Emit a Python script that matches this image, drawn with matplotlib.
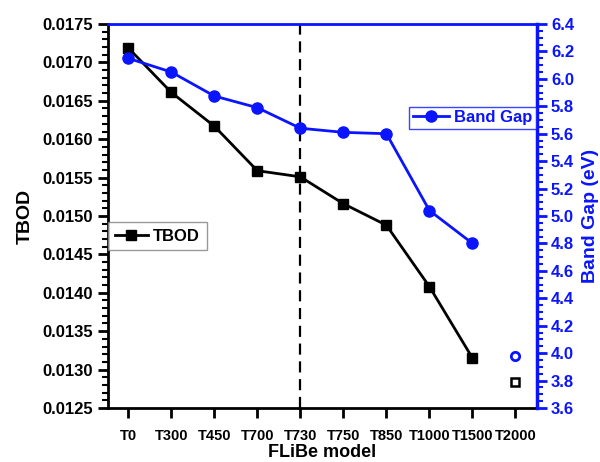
import matplotlib
matplotlib.use("Agg")
import matplotlib.pyplot as plt
from matplotlib.ticker import MultipleLocator, AutoMinorLocator

plt.rcParams['font.family'] = ['Liberation Sans', 'DejaVu Sans']
plt.rcParams['font.weight'] = 'bold'

models = ['T0', 'T300', 'T450', 'T700', 'T730', 'T750', 'T850', 'T1000', 'T1500', 'T2000']
tbod = [0.01719, 0.01661, 0.01617, 0.01559, 0.01551, 0.01516, 0.01488, 0.01408, 0.01315]
band_gap = [6.15, 6.05, 5.875, 5.79, 5.64, 5.61, 5.60, 5.04, 4.80]
tbod_t2000 = 0.01284
gap_t2000 = 3.98

blue = '#0a14ff'
x = list(range(len(models)))

fig = plt.figure(figsize=(6, 4.62), dpi=100)
ax = fig.add_axes([0.18, 0.117, 0.715, 0.831])
ax2 = ax.twinx()

l1, = ax.plot(x[:len(tbod)], tbod, color='black', lw=2, marker='s', ms=7, label='TBOD')
ax.plot(x[-1], tbod_t2000, ls='none', marker='s', ms=6, mfc='white', mec='black', mew=1.8)
ax.axvline(4, color='black', lw=1.6, ls=(0, (5, 3)))

l2, = ax2.plot(x[:len(band_gap)], band_gap, color=blue, lw=2, marker='o', ms=8, label='Band Gap')
ax2.plot(x[-1], gap_t2000, ls='none', marker='o', ms=6, mfc='white', mec=blue, mew=2)

ax.set_xlim(-0.47, 9.5)
ax.set_ylim(0.0125, 0.0175)
ax2.set_ylim(3.6, 6.4)
ax.set_xticks(x)
ax.set_xticklabels(models, fontsize=10.5, fontweight='bold')
ax.yaxis.set_major_locator(MultipleLocator(0.0005))
ax.yaxis.set_minor_locator(AutoMinorLocator(5))
ax.yaxis.set_major_formatter(plt.FormatStrFormatter('%.4f'))
ax2.yaxis.set_major_locator(MultipleLocator(0.2))
ax2.yaxis.set_minor_locator(AutoMinorLocator(4))

ax.tick_params(axis='y', which='major', length=7, width=2, labelsize=12, direction='out', pad=4)
ax.tick_params(axis='y', which='minor', length=4, width=1.5, direction='out')
ax.tick_params(axis='x', which='major', length=7, width=2, direction='out', pad=8)
ax2.tick_params(axis='y', which='major', length=7, width=2, labelsize=12, colors=blue, direction='out', pad=3)
ax2.tick_params(axis='y', which='minor', length=4, width=1.5, colors=blue, direction='out')

for s in ['left', 'bottom']:
    ax.spines[s].set_linewidth(2)
ax2.spines['left'].set_visible(False)
ax2.spines['bottom'].set_visible(False)
ax.spines['top'].set_visible(False)
ax.spines['right'].set_visible(False)
ax2.spines['top'].set_color(blue)
ax2.spines['top'].set_linewidth(2)
ax2.spines['right'].set_color(blue)
ax2.spines['right'].set_linewidth(2.5)

ax.set_xlabel('FLiBe model', fontsize=13, fontweight='bold', labelpad=1)
ax.set_ylabel('TBOD', fontsize=14, fontweight='bold', labelpad=6)
ax2.set_ylabel('Band Gap (eV)', fontsize=14, fontweight='bold', color=blue, labelpad=6)

leg1 = ax.legend(handles=[l1], loc='upper left', bbox_to_anchor=(0.0, 0.484),
                 fancybox=False, edgecolor='gray', borderpad=0.4, handlelength=2.0,
                 handletextpad=0.3, borderaxespad=0.0,
                 prop={'weight': 'bold', 'size': 12})
leg2 = ax2.legend(handles=[l2], loc='upper right', bbox_to_anchor=(0.998, 0.784),
                  fancybox=False, edgecolor=blue, borderpad=0.2, handlelength=2.2,
                  handletextpad=0.3, borderaxespad=0.0,
                  prop={'weight': 'bold', 'size': 12})
for t in leg2.get_texts():
    t.set_color(blue)
leg1.get_frame().set_linewidth(1)
leg2.get_frame().set_linewidth(1)

fig.savefig('out.png', dpi=100)
